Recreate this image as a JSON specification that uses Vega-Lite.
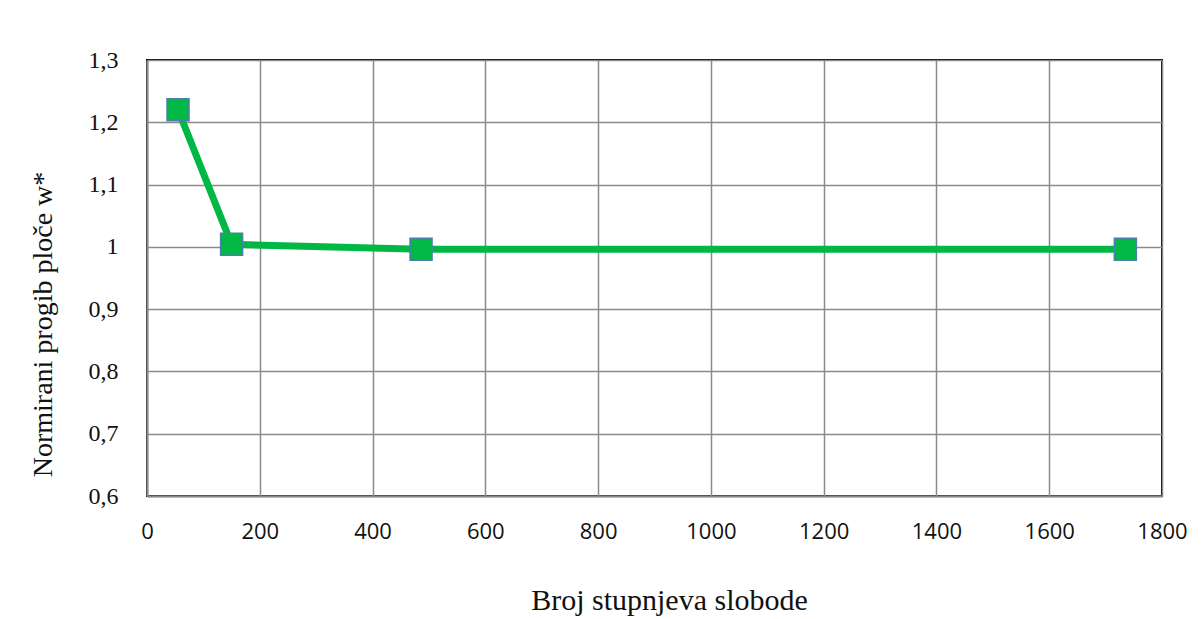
{
  "$schema": "https://vega.github.io/schema/vega-lite/v6.json",
  "autosize": {"type": "none"},
  "width": 1015,
  "height": 436,
  "padding": {"left": 147, "top": 60, "right": 41, "bottom": 123},
  "background": "white",
  "config": {
    "view": {"stroke": "#000000", "strokeWidth": 2},
    "axis": {"gridColor": "#8a8a8a", "gridWidth": 1.5, "domainColor": "#8a8a8a", "domainWidth": 2, "ticks": false, "gridOpacity": 1}
  },
  "data": {"values": [
    {"dof": 55, "w": 1.22},
    {"dof": 150, "w": 1.004},
    {"dof": 486, "w": 0.996},
    {"dof": 1735, "w": 0.996}
  ]},
  "encoding": {
    "x": {"field": "dof", "type": "quantitative",
      "scale": {"domain": [0, 1800], "nice": false, "zero": false},
      "axis": {"values": [0, 200, 400, 600, 800, 1000, 1200, 1400, 1600, 1800], "format": "d",
        "labelFont": "Open Sans", "labelFontSize": 22, "labelColor": "#111", "labelPadding": 25, "labelFlush": false, "labelOverlap": false,
        "title": "Broj stupnjeva slobode", "titleFont": "Liberation Serif", "titleFontSize": 30, "titleFontWeight": "normal", "titleColor": "#111",
        "titleX": 522, "titleY": 113, "titleBaseline": "alphabetic", "titleAlign": "center"}},
    "y": {"field": "w", "type": "quantitative",
      "scale": {"domain": [0.6, 1.3], "nice": false, "zero": false},
      "axis": {"values": [0.6, 0.7, 0.8, 0.9, 1.0, 1.1, 1.2, 1.3],
        "labelExpr": "replace(format(datum.value, '.1~f'), '.', ',')",
        "labelFont": "Liberation Serif", "labelFontSize": 24, "labelColor": "#111", "labelPadding": 29, "labelFlush": false,
        "title": "Normirani progib ploče  w*", "titleFont": "Liberation Serif", "titleFontSize": 28, "titleFontWeight": "normal", "titleColor": "#111",
        "titleX": -96, "titleY": 264, "titleAngle": -90, "titleBaseline": "alphabetic", "titleAlign": "center"}}
  },
  "layer": [
    {"mark": {"type": "line", "color": "#00b843", "strokeWidth": 7}},
    {"mark": {"type": "square", "size": 484, "filled": true, "fill": "#00b843", "stroke": "#4a7fae", "strokeWidth": 1.5, "opacity": 1}}
  ]
}
